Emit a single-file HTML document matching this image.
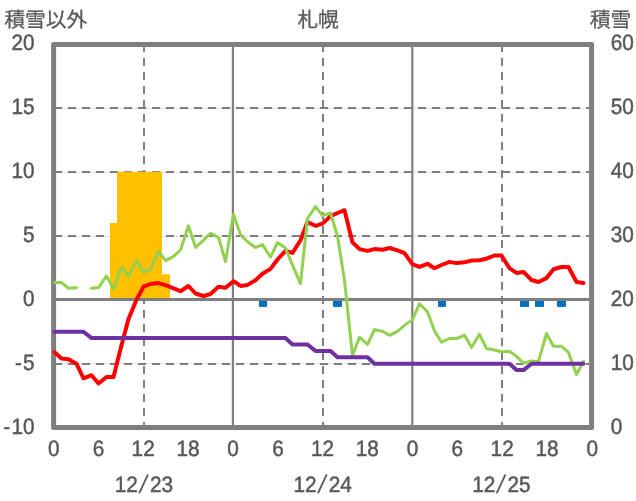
<!DOCTYPE html>
<html lang="ja">
<head>
<meta charset="utf-8">
<title>札幌</title>
<style>
html,body{margin:0;padding:0;background:#fff;}
body{width:636px;height:501px;overflow:hidden;}
svg{display:block;}
text{font-family:"Liberation Sans","Noto Sans CJK JP",sans-serif;fill:#595959;stroke:#595959;stroke-width:0.5px;stroke-linejoin:round;text-rendering:geometricPrecision;}
.ax{font-size:22.2px;}
.ti{font-size:20.7px;stroke-width:0.3px;}
</style>
</head>
<body>
<svg width="636" height="501" viewBox="0 0 636 501">
<rect x="0" y="0" width="636" height="501" fill="#ffffff"/>

<g stroke="#dedede" stroke-width="1" fill="none">
<line x1="53.5" y1="108.50" x2="591.5" y2="108.50"/>
<line x1="53.5" y1="172.50" x2="591.5" y2="172.50"/>
<line x1="53.5" y1="236.50" x2="591.5" y2="236.50"/>
<line x1="53.5" y1="363.50" x2="591.5" y2="363.50"/>
</g>
<g stroke="#7f7f7f" stroke-width="2" stroke-dasharray="8 6" fill="none">
<line x1="54" y1="108.0" x2="591.5" y2="108.0"/>
<line x1="54" y1="172.0" x2="591.5" y2="172.0"/>
<line x1="54" y1="236.0" x2="591.5" y2="236.0"/>
<line x1="54" y1="364.0" x2="591.5" y2="364.0"/>
<line x1="144.0" y1="44" x2="144.0" y2="427.5"/>
<line x1="323.0" y1="44" x2="323.0" y2="427.5"/>
<line x1="502.0" y1="44" x2="502.0" y2="427.5"/>
</g>
<path fill="#ffc000" d="M110.00 300.00 L110.00 223.00 L117.00 223.00 L117.00 171.80 L162.00 171.80 L162.00 274.20 L170.00 274.20 L170.00 300.00Z"/>
<g fill="#0070c0">
<rect x="259" y="299" width="8" height="7.9"/>
<rect x="333" y="299" width="9" height="7.9"/>
<rect x="438" y="299" width="8" height="7.9"/>
<rect x="520" y="299" width="9" height="7.9"/>
<rect x="535" y="299" width="9" height="7.9"/>
<rect x="557" y="299" width="9" height="7.9"/>
</g>
<g stroke="#7f7f7f" stroke-width="2.2" fill="none">
<line x1="232.9" y1="44.5" x2="232.9" y2="427.5"/>
<line x1="412.3" y1="44.5" x2="412.3" y2="427.5"/>
<line x1="53.5" y1="299.5" x2="591.5" y2="299.5" stroke-width="3"/>
</g>
<rect x="53.6" y="44.5" width="538.0" height="383.0" fill="none" stroke="#7f7f7f" stroke-width="5" stroke-linejoin="round"/>
<path d="M54.5 352.2 L61.5 358.6 L68.5 359.2 L76.5 363.7 L83.5 378.3 L91.5 375.2 L98.5 383.5 L106.5 377.1 L113.5 377.1 L121.5 345.3 L128.5 319.0 L136.5 299.8 L143.5 286.7 L150.5 284.0 L158.5 283.1 L165.5 285.2 L173.5 288.3 L180.5 291.2 L188.5 286.0 L195.5 293.5 L203.5 296.0 L210.5 294.0 L218.5 286.8 L225.5 287.8 L233.5 281.2 L240.5 285.9 L247.5 284.9 L255.5 280.2 L262.5 273.8 L270.5 268.9 L277.5 259.5 L285.5 250.9 L292.5 252.9 L300.5 240.2 L307.5 222.0 L315.5 225.8 L322.5 223.6 L330.5 216.1 L337.5 213.0 L344.5 210.2 L352.5 242.4 L359.5 249.1 L367.5 250.9 L374.5 249.1 L382.5 249.8 L389.5 248.0 L397.5 250.3 L404.5 253.1 L412.5 264.3 L419.5 266.9 L427.5 263.8 L434.5 268.2 L441.5 265.0 L449.5 261.9 L456.5 263.1 L464.5 262.3 L471.5 260.6 L479.5 260.3 L486.5 258.7 L494.5 255.5 L501.5 255.5 L509.5 268.2 L516.5 272.9 L523.5 271.9 L531.5 280.0 L538.5 282.0 L546.5 278.1 L553.5 269.2 L561.5 267.0 L568.5 267.0 L576.5 282.0 L583.5 283.0" fill="none" stroke="#ff0000" stroke-width="4" stroke-linejoin="round" stroke-linecap="round"/>
<path d="M54.5 282.5 L61.5 282.5 L68.5 288.3 L76.5 287.7 M91.5 288.3 L98.5 287.6 L106.5 276.0 L113.5 288.9 L121.5 267.2 L128.5 276.2 L136.5 260.3 L143.5 271.7 L150.5 269.4 L158.5 251.3 L165.5 260.6 L173.5 256.4 L180.5 250.0 L188.5 225.8 L195.5 247.5 L203.5 240.2 L210.5 233.4 L218.5 237.3 L225.5 261.5 L233.5 214.3 L240.5 234.7 L247.5 241.7 L255.5 247.5 L262.5 244.6 L270.5 257.1 L277.5 242.5 L285.5 248.1 L292.5 265.1 L300.5 283.6 L307.5 218.5 L315.5 206.6 L322.5 215.7 L330.5 213.0 L337.5 236.0 L344.5 280.4 L352.5 355.5 L359.5 337.2 L367.5 344.3 L374.5 329.5 L382.5 331.4 L389.5 335.3 L397.5 331.4 L404.5 325.4 L412.5 319.6 L419.5 303.7 L427.5 311.7 L434.5 331.0 L441.5 342.2 L449.5 338.5 L456.5 338.5 L464.5 335.3 L471.5 347.6 L479.5 334.3 L486.5 348.5 L494.5 350.0 L501.5 351.8 L509.5 351.3 L516.5 356.4 L523.5 363.3 L531.5 360.9 L538.5 361.4 L546.5 333.5 L553.5 346.3 L561.5 346.3 L568.5 352.4 L576.5 374.5 L583.5 361.4" fill="none" stroke="#92d050" stroke-width="3" stroke-linejoin="round" stroke-linecap="round"/>
<path d="M54.5 331.8 L61.5 331.8 L68.5 331.8 L76.5 331.8 L83.5 331.8 L91.5 338.1 L98.5 338.1 L106.5 338.1 L113.5 338.1 L121.5 338.1 L128.5 338.1 L136.5 338.1 L143.5 338.1 L150.5 338.1 L158.5 338.1 L165.5 338.1 L173.5 338.1 L180.5 338.1 L188.5 338.1 L195.5 338.1 L203.5 338.1 L210.5 338.1 L218.5 338.1 L225.5 338.1 L233.5 338.1 L240.5 338.1 L247.5 338.1 L255.5 338.1 L262.5 338.1 L270.5 338.1 L277.5 338.1 L285.5 338.1 L292.5 344.5 L300.5 344.5 L307.5 344.5 L315.5 350.9 L322.5 350.9 L330.5 350.9 L337.5 357.3 L344.5 357.3 L352.5 357.3 L359.5 357.3 L367.5 357.3 L374.5 363.7 L382.5 363.7 L389.5 363.7 L397.5 363.7 L404.5 363.7 L412.5 363.7 L419.5 363.7 L427.5 363.7 L434.5 363.7 L441.5 363.7 L449.5 363.7 L456.5 363.7 L464.5 363.7 L471.5 363.7 L479.5 363.7 L486.5 363.7 L494.5 363.7 L501.5 363.7 L509.5 363.7 L516.5 370.1 L523.5 370.1 L531.5 363.7 L538.5 363.7 L546.5 363.7 L553.5 363.7 L561.5 363.7 L568.5 363.7 L576.5 363.7 L583.5 363.7" fill="none" stroke="#7030a0" stroke-width="4" stroke-linejoin="round" stroke-linecap="round"/>
<text class="ax" transform="translate(34.60 50.25) scale(0.937 1)" text-anchor="end">20</text>
<text class="ax" transform="translate(34.60 114.25) scale(0.937 1)" text-anchor="end">15</text>
<text class="ax" transform="translate(34.60 178.35) scale(0.937 1)" text-anchor="end">10</text>
<text class="ax" transform="translate(34.60 242.40) scale(0.937 1)" text-anchor="end">5</text>
<text class="ax" transform="translate(34.60 306.35) scale(0.937 1)" text-anchor="end">0</text>
<text class="ax" transform="translate(34.60 370.40) scale(0.937 1)" text-anchor="end"><tspan>-</tspan><tspan dx="1.3">5</tspan></text>
<text class="ax" transform="translate(34.60 434.45) scale(0.937 1)" text-anchor="end"><tspan>-</tspan><tspan dx="1.3">10</tspan></text>
<text class="ax" transform="translate(610.70 50.25) scale(0.937 1)" text-anchor="start">60</text>
<text class="ax" transform="translate(610.70 114.25) scale(0.937 1)" text-anchor="start">50</text>
<text class="ax" transform="translate(610.70 178.35) scale(0.937 1)" text-anchor="start">40</text>
<text class="ax" transform="translate(610.70 242.40) scale(0.937 1)" text-anchor="start">30</text>
<text class="ax" transform="translate(610.70 306.35) scale(0.937 1)" text-anchor="start">20</text>
<text class="ax" transform="translate(610.70 370.40) scale(0.937 1)" text-anchor="start">10</text>
<text class="ax" transform="translate(610.70 434.45) scale(0.937 1)" text-anchor="start">0</text>
<text class="ax" transform="translate(53.80 455.50) scale(0.937 1)" text-anchor="middle">0</text>
<text class="ax" transform="translate(98.63 455.50) scale(0.937 1)" text-anchor="middle">6</text>
<text class="ax" transform="translate(143.17 455.50) scale(0.937 1)" text-anchor="middle">12</text>
<text class="ax" transform="translate(188.00 455.50) scale(0.937 1)" text-anchor="middle">18</text>
<text class="ax" transform="translate(233.13 455.50) scale(0.937 1)" text-anchor="middle">0</text>
<text class="ax" transform="translate(277.97 455.50) scale(0.937 1)" text-anchor="middle">6</text>
<text class="ax" transform="translate(322.50 455.50) scale(0.937 1)" text-anchor="middle">12</text>
<text class="ax" transform="translate(367.33 455.50) scale(0.937 1)" text-anchor="middle">18</text>
<text class="ax" transform="translate(412.47 455.50) scale(0.937 1)" text-anchor="middle">0</text>
<text class="ax" transform="translate(457.30 455.50) scale(0.937 1)" text-anchor="middle">6</text>
<text class="ax" transform="translate(502.13 455.50) scale(0.937 1)" text-anchor="middle">12</text>
<text class="ax" transform="translate(546.97 455.50) scale(0.937 1)" text-anchor="middle">18</text>
<text class="ax" transform="translate(592.20 455.50) scale(0.937 1)" text-anchor="middle">0</text>
<text class="ax" transform="translate(126.30 491.50) scale(0.937 1)" text-anchor="middle">12</text>
<text transform="translate(141.90 493.3) skewX(-11)" text-anchor="middle" style="font-size:25.5px;stroke-width:0">/</text>
<text class="ax" transform="translate(161.50 491.50) scale(0.937 1)" text-anchor="middle">23</text>
<text class="ax" transform="translate(305.00 491.50) scale(0.937 1)" text-anchor="middle">12</text>
<text transform="translate(320.60 493.3) skewX(-11)" text-anchor="middle" style="font-size:25.5px;stroke-width:0">/</text>
<text class="ax" transform="translate(340.20 491.50) scale(0.937 1)" text-anchor="middle">24</text>
<text class="ax" transform="translate(483.80 491.50) scale(0.937 1)" text-anchor="middle">12</text>
<text transform="translate(499.40 493.3) skewX(-11)" text-anchor="middle" style="font-size:25.5px;stroke-width:0">/</text>
<text class="ax" transform="translate(519.00 491.50) scale(0.937 1)" text-anchor="middle">25</text>
<text class="ti" transform="translate(4.40 27.00) scale(1.000 1)" text-anchor="start">積雪以外</text>
<text class="ti" transform="translate(318.10 27.00) scale(1.000 1)" text-anchor="middle">札幌</text>
<text class="ti" transform="translate(631.30 27.00) scale(1.000 1)" text-anchor="end">積雪</text>
</svg>
</body>
</html>
